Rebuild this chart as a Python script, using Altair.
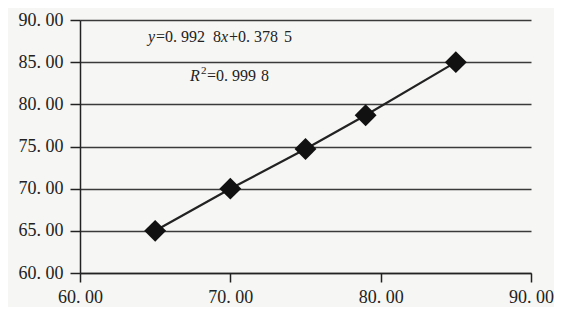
import altair as alt
import pandas as pd

# data
x_vals = [65, 70, 75, 79, 85]
y_vals = [65, 70, 74.7, 78.7, 85]
y_ticks = [60, 65, 70, 75, 80, 85, 90]
x_ticks = [60, 70, 80, 90]

# annotation pieces: text, italic?, line (0/1), dx offset, dy offset
ann_text = ["y", "=0. 992", "8", "x", "+0. 378", "5",
            "R", "2", "=0. 999", "8"]
ann_italic = [True, False, False, True, False, False,
              True, False, False, False]
ann_line = [0, 0, 0, 0, 0, 0, 1, 1, 1, 1]
ann_dx = [0, 8, 65, 73, 81, 136, 42, 53, 59, 113]
ann_dy = [0, 0, 0, 0, 0, 0, 0, -5, 0, 0]

df = pd.DataFrame({"x": x_vals, "y": y_vals})

FONT = "Liberation Serif"
INK = "#222222"

xs = alt.Scale(domain=[60, 90], nice=False, zero=False)
ys = alt.Scale(domain=[60, 90], nice=False, zero=False)
lab = "replace(format(datum.value, '.2f'), '.', '. ')"

xaxis = alt.Axis(values=x_ticks, grid=False, labelExpr=lab, title=None,
                 tickSize=9, tickColor=INK, tickWidth=1.5,
                 domainColor=INK, domainWidth=1.5,
                 labelFont=FONT, labelFontSize=18, labelColor=INK,
                 labelPadding=6, labelFlush=False, labelOverlap=False)
yaxis = alt.Axis(values=y_ticks, grid=True, gridColor="#3a3a3a", gridWidth=1.5,
                 labelExpr=lab, title=None,
                 tickSize=10, tickColor=INK, tickWidth=1.5,
                 domainColor=INK, domainWidth=1.5,
                 labelFont=FONT, labelFontSize=18, labelColor=INK,
                 labelPadding=7, labelFlush=False, labelOverlap=False)

base = alt.Chart(df)
line = base.mark_line(color="#222222", strokeWidth=2.2).encode(
    x=alt.X("x:Q", scale=xs, axis=xaxis),
    y=alt.Y("y:Q", scale=ys, axis=yaxis),
)
pts = base.mark_point(shape="diamond", filled=True, color="#111111", size=480, opacity=1).encode(
    x=alt.X("x:Q", scale=xs),
    y=alt.Y("y:Q", scale=ys),
)

# anchor of annotation in data space (one per text line)
anchor_x = [64.52, 64.52]
anchor_y = [87.95, 83.4]

layers = [line, pts]
for t, it, ln, dx, dy in zip(ann_text, ann_italic, ann_line, ann_dx, ann_dy):
    d = pd.DataFrame({"x": [anchor_x[ln]], "y": [anchor_y[ln]], "t": [t]})
    layers.append(
        alt.Chart(d).mark_text(
            align="left", baseline="middle", font=FONT,
            fontSize=11 if (t == "2") else 16,
            fontStyle="italic" if it else "normal",
            color=INK, dx=dx, dy=dy,
        ).encode(x=alt.X("x:Q", scale=xs), y=alt.Y("y:Q", scale=ys), text="t:N")
    )

chart = alt.layer(*layers).properties(
    width=451, height=253,
    autosize=alt.AutoSizeParams(type="none"),
    padding={"left": 72, "top": 12, "right": 23, "bottom": 34},
    background="#f6f6f4",
).configure_view(stroke=None)

chart.save("out.html", embed_options={"renderer": "svg", "actions": False})
